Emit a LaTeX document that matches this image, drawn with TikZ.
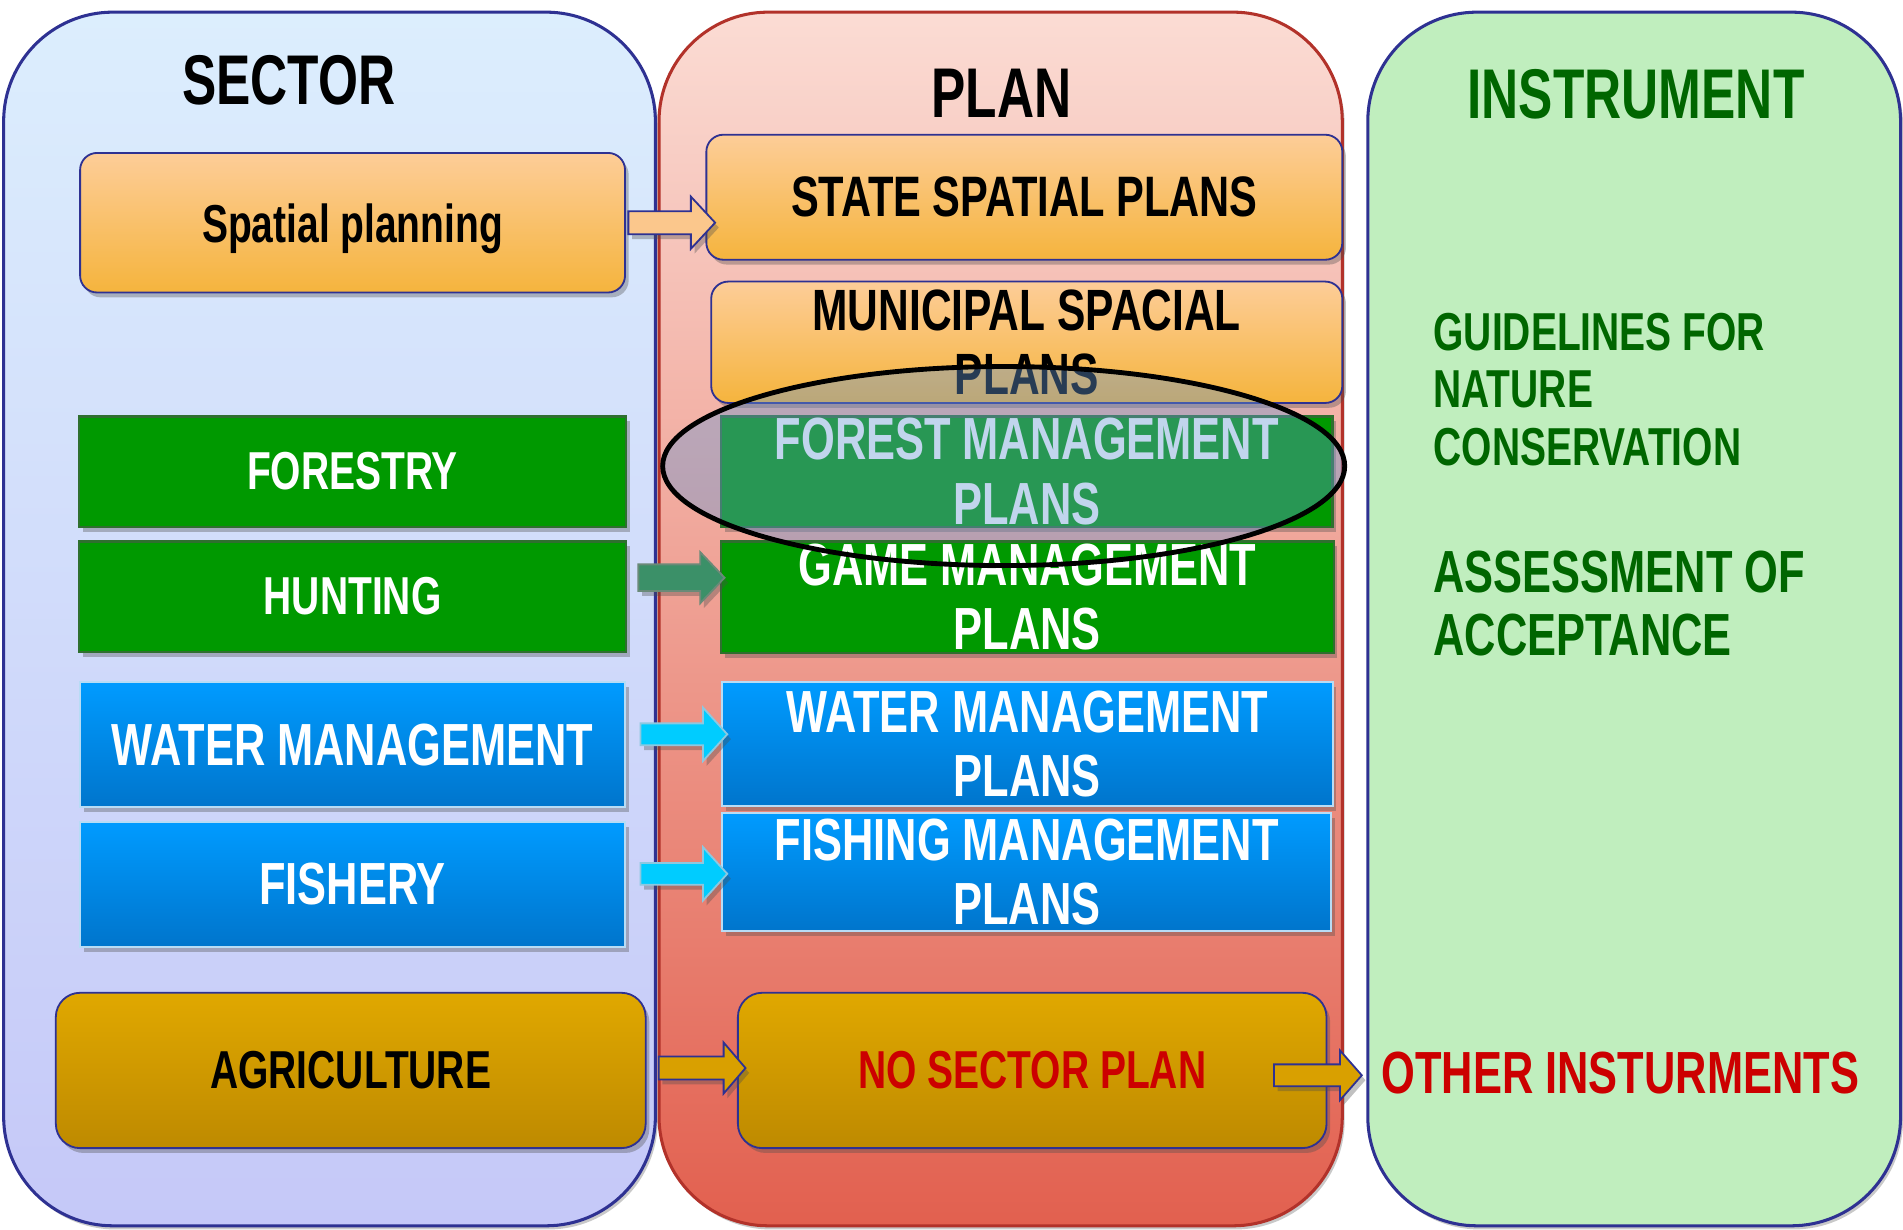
\documentclass[tikz,border=0pt]{standalone}
\usepackage{fontspec}
\setmainfont{Liberation Sans}
\newfontfamily\nar[FakeStretch=0.73]{Liberation Sans}
\usetikzlibrary{shapes.geometric,shadows,calc}
\definecolor{bdblue}{HTML}{2E3192}
\definecolor{cOneTop}{HTML}{DCEEFD}
\definecolor{cOneBot}{HTML}{C5C8F8}
\definecolor{cTwoTop}{HTML}{FBDCD4}
\definecolor{cTwoBot}{HTML}{E2604F}
\definecolor{cTwoBd}{HTML}{B2322A}
\definecolor{cThree}{HTML}{C0EEBE}
\definecolor{orTop}{HTML}{FDCD98}
\definecolor{orBot}{HTML}{F5B43D}
\definecolor{gFill}{HTML}{009900}
\definecolor{gBd}{HTML}{2F6F2F}
\definecolor{bTop}{HTML}{009BFF}
\definecolor{bBot}{HTML}{0075CC}
\definecolor{bBd}{HTML}{B8DCF5}
\definecolor{yTop}{HTML}{E0A800}
\definecolor{yBot}{HTML}{BE8A00}
\definecolor{insG}{HTML}{006600}
\definecolor{redT}{HTML}{CC0000}
\definecolor{ovC}{RGB}{102,150,210}
\definecolor{arOr}{HTML}{FBC78C}
\definecolor{arTeal}{HTML}{3B9068}
\definecolor{arTealBd}{HTML}{6A8A78}
\definecolor{arCyan}{HTML}{00CCFF}
\definecolor{arCyanBd}{HTML}{8CC8E0}
\definecolor{arGold}{HTML}{D9A000}
\newcommand\blkarrow[6]{\draw[#1] let \p1=#2, \p2=#3 in
  (\x1,\y1+#4pt) -- (\x2-#6pt,\y1+#4pt) -- (\x2-#6pt,\y1+#5pt) -- (\x2,\y1)
  -- (\x2-#6pt,\y1-#5pt) -- (\x2-#6pt,\y1-#4pt) -- (\x1,\y1-#4pt) -- cycle;}
\tikzset{
  myshadow/.style={drop shadow={shadow xshift=3pt, shadow yshift=-4pt, opacity=0.35, fill=black!70}},
  colshadow/.style={drop shadow={shadow xshift=2pt, shadow yshift=-3pt, opacity=0.3, fill=black!70}},
  col/.style={draw, line width=2.5pt, rounded corners=90pt, inner sep=0pt, minimum height=1000pt, colshadow},
  ttl/.style={inner sep=0pt, font={\nar\bfseries\fontsize{58}{60}\selectfont}},
  lab/.style={inner sep=0pt, align=center, font={\nar\bfseries\fontsize{49}{53}\selectfont}},
  obox/.style={lab, draw=bdblue, line width=1.5pt, rounded corners=14pt, top color=orTop, bottom color=orBot, myshadow},
  gbox/.style={lab, draw=gBd, line width=2pt, fill=gFill, text=white, myshadow},
  bbox/.style={lab, draw=bBd, line width=1.5pt, top color=bTop, bottom color=bBot, text=white, myshadow},
  ybox/.style={lab, draw=bdblue, line width=1.5pt, rounded corners=20pt, top color=yTop, bottom color=yBot, myshadow},
  small/.style={font={\nar\bfseries\fontsize{44}{48}\selectfont}},
  instxt/.style={inner sep=0pt, align=left, anchor=west, text=insG},
  arrO/.style={draw=bdblue, line width=1.5pt, fill=arOr, myshadow},
  arrT/.style={draw=arTealBd, line width=1.5pt, fill=arTeal, myshadow},
  arrC/.style={draw=arCyanBd, line width=1.5pt, fill=arCyan, myshadow},
  arrY/.style={draw=bdblue, line width=1.5pt, fill=arGold, myshadow},
}
\begin{document}
\begin{tikzpicture}[x=1pt,y=-1pt]
\useasboundingbox (0,0) rectangle (1568,1013);
% columns
\node[col, draw=bdblue, top color=cOneTop, bottom color=cOneBot, minimum width=537pt] (c1) at (271.5,510) {};
\node[col, draw=cTwoBd, top color=cTwoTop, bottom color=cTwoBot, minimum width=563pt] (c2) at (824.5,510) {};
\node[col, draw=bdblue, fill=cThree, minimum width=439pt] (c3) at (1346.5,510) {};
% titles
\node[ttl] (tsec) at (238,66) {SECTOR};
\node[ttl] (tplan) at (825,77) {PLAN};
\node[ttl, text=insG] (tins) at (1348,78) {INSTRUMENT};
% sector boxes
\node[obox, small, text depth=0pt, minimum width=449pt, minimum height=115pt] (sp) at (290.5,183.5) {Spatial planning};
\node[gbox, small, minimum width=451pt, minimum height=91pt] (fo) at (290.5,388.5) {FORESTRY};
\node[gbox, small, minimum width=451pt, minimum height=91pt] (hu) at (290.5,491.5) {HUNTING};
\node[bbox, minimum width=449pt, minimum height=103pt] (wm) at (290.5,613.5) {WATER MANAGEMENT};
\node[bbox, minimum width=449pt, minimum height=103pt] (fi) at (290.5,728.5) {FISHERY};
\node[ybox, small, minimum width=486pt, minimum height=128pt] (ag) at (289,882) {AGRICULTURE};
% plan boxes
\node[obox, font={\nar\bfseries\fontsize{47}{50}\selectfont}, minimum width=524pt, minimum height=103pt] (ssp) at (844,162.5) {STATE SPATIAL PLANS};
\node[obox, font={\nar\bfseries\fontsize{48}{53}\selectfont}, minimum width=520pt, minimum height=100pt] (msp) at (846,282) {MUNICIPAL SPACIAL\\PLANS};
\node[gbox, minimum width=504pt, minimum height=91pt] (fmp) at (846,388.5) {FOREST MANAGEMENT\\PLANS};
% overlay ellipse (fill)
\node[ellipse, fill=ovC, fill opacity=0.4, inner sep=0pt, minimum width=562pt, minimum height=164pt] (ov) at (827,384) {};
\node[gbox, minimum width=505pt, minimum height=92pt] (gmp) at (846.5,492) {GAME MANAGEMENT\\PLANS};
\node[bbox, minimum width=503pt, minimum height=102pt] (wmp) at (846.5,613) {WATER MANAGEMENT\\PLANS};
\node[bbox, minimum width=502pt, minimum height=97pt] (fimp) at (846,718.5) {FISHING MANAGEMENT\\PLANS};
\node[ybox, small, text=redT, minimum width=485pt, minimum height=128pt] (nsp) at (850.5,882) {NO SECTOR PLAN};
% ellipse outline
\draw[line width=4pt, black] (ov.center) ellipse [x radius=281, y radius=82];
% instrument texts
\node[instxt, font={\nar\bfseries\fontsize{44}{47.5}\selectfont}] (gl) at (1181,321) {GUIDELINES FOR\\NATURE\\CONSERVATION};
\node[instxt, font={\nar\bfseries\fontsize{49}{52}\selectfont}] (as) at (1181,497.5) {ASSESSMENT OF\\ACCEPTANCE};
\node[inner sep=0pt, text=redT, font={\nar\bfseries\fontsize{49}{52}\selectfont}] (oth) at (1335,884) {OTHER INSTURMENTS};
% block arrows
\blkarrow{arrO}{($(sp.east)+(2,0)$)}{($(ssp.west)+(8,0)$)}{9.5}{21.5}{20}
\blkarrow{arrT}{($(hu.east)+(9,-15.5)$)}{($(gmp.west)+(4,0)$)}{11}{21}{20}
\blkarrow{arrC}{($(wm.east)+(12,-8.5)$)}{($(wmp.west)+(5,0)$)}{9}{22}{20}
\blkarrow{arrC}{($(fi.east)+(12,-8.5)$)}{($(fimp.west)+(5,0)$)}{9}{22}{20}
\blkarrow{arrY}{($(ag.east)+(10,-2)$)}{($(nsp.west)+(7,0)$)}{9.5}{21}{18}
\blkarrow{arrY}{($(nsp.east)+(-44,4)$)}{($(oth.west)+(-16,0)$)}{9}{20.5}{18}
\end{tikzpicture}
\end{document}
